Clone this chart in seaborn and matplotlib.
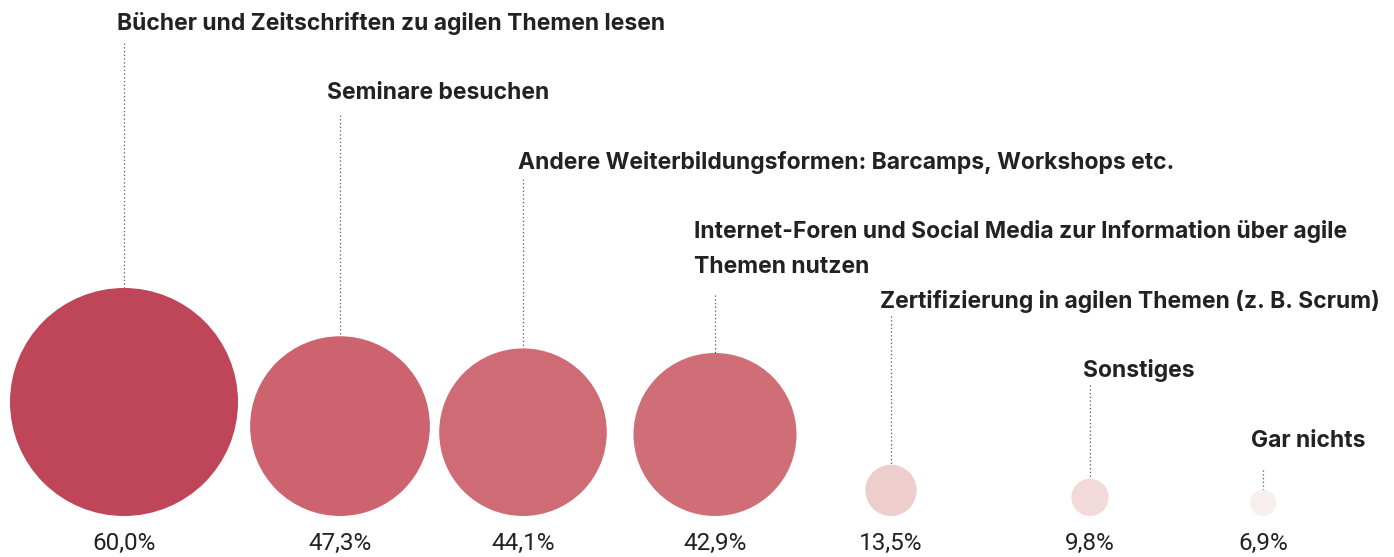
import numpy as np
import pandas as pd
import matplotlib
matplotlib.use("Agg")
import matplotlib.pyplot as plt
import seaborn as sns

# ------------------------------------------------------------
# DATA
# ------------------------------------------------------------
labels = [
    "Bücher und Zeitschriften zu agilen Themen lesen",
    "Seminare besuchen",
    "Andere Weiterbildungsformen: Barcamps, Workshops etc.",
    "Internet-Foren und Social Media zur Information über agile\nThemen nutzen",
    "Zertifizierung in agilen Themen (z. B. Scrum)",
    "Sonstiges",
    "Gar nichts",
]
values = [60.0, 47.3, 44.1, 42.9, 13.5, 9.8, 6.9]
value_texts = ["60,0%", "47,3%", "44,1%", "42,9%", "13,5%", "9,8%", "6,9%"]

# ------------------------------------------------------------
# LAYOUT (pixel coordinates, y grows downward)
# ------------------------------------------------------------
W, H, DPI = 1394, 557, 100
colors = ["#BF4658", "#CC636E", "#CF6B75", "#D06E77", "#EECDCD", "#F2DADB", "#F9EEEF"]
center_x = [124, 340, 523, 715, 891, 1090, 1263]
label_x = [117, 327, 518, 694, 880, 1083, 1251]
label_base = [30, 99, 169, 238, 308, 377, 447]
line_top = [43, 115, 179, 295, 316, 385, 470]
ground = 516            # common bottom of all circles
max_diam = 228          # diameter of the 60 % circle
line_step = 35

df = pd.DataFrame({"label": labels, "value": values, "x": center_x})
df["diam"] = df["value"] / max(values) * max_diam
df["y"] = ground - df["diam"] / 2
df["area"] = (df["diam"] * 72 / DPI) ** 2   # marker area in pt^2

fig = plt.figure(figsize=(W / DPI, H / DPI), dpi=DPI)
ax = fig.add_axes([0, 0, 1, 1])

sns.scatterplot(data=df, x="x", y="y", hue="label", palette=dict(zip(labels, colors)),
                s=df["area"].values, linewidth=0, legend=False, ax=ax, zorder=3)

ax.set_xlim(0, W)
ax.set_ylim(H, 0)
ax.axis("off")

for i, row in df.iterrows():
    top = ground - row["diam"]
    ax.plot([row["x"], row["x"]], [line_top[i], top], color="#555555", lw=0.9,
            linestyle=(0, (1, 2)), zorder=2)
    for k, part in enumerate(row["label"].split("\n")):
        ax.text(label_x[i], label_base[i] + k * line_step, part, fontsize=16.5,
                fontfamily="Inter", fontweight="bold", color="#222222",
                ha="left", va="baseline")
    ax.text(row["x"], 550, value_texts[i], fontsize=17.5, fontfamily="Roboto",
            fontweight="normal", color="#222222", ha="center", va="baseline")

fig.savefig("out.png", dpi=DPI)
